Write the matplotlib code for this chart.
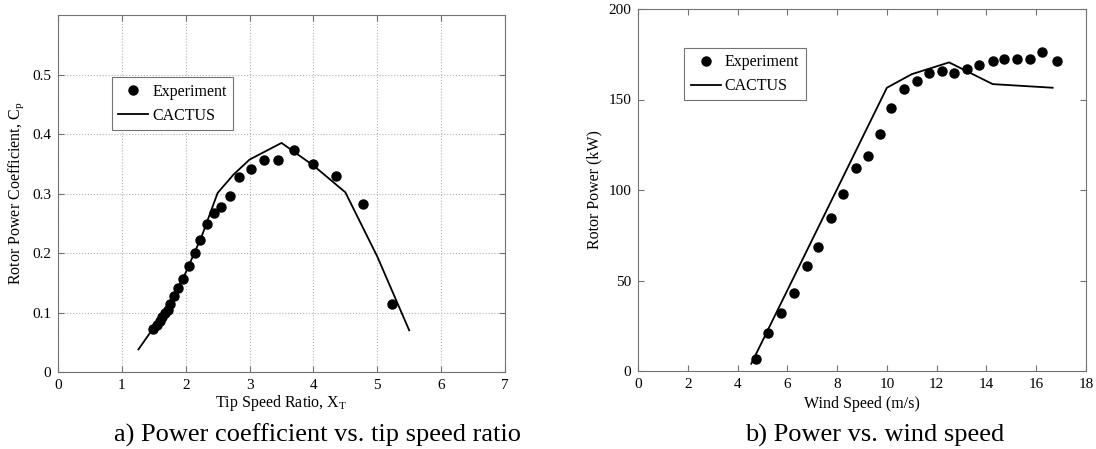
import matplotlib.pyplot as plt

plt.rcParams['font.family'] = ['Liberation Serif', 'DejaVu Serif']
plt.rcParams['mathtext.fontset'] = 'custom'
plt.rcParams['mathtext.rm'] = 'Liberation Serif'
plt.rcParams['mathtext.it'] = 'Liberation Serif'

# a) Cp vs tip speed ratio
tsr_exp = [1.49, 1.545, 1.59, 1.63, 1.68, 1.72, 1.75, 1.82, 1.88, 1.96, 2.05, 2.14,
           2.23, 2.33, 2.45, 2.55, 2.70, 2.84, 3.02, 3.22, 3.44, 3.69, 3.99, 4.35,
           4.78, 5.23]
cp_exp = [0.072, 0.079, 0.085, 0.092, 0.099, 0.105, 0.114, 0.128, 0.142, 0.157, 0.178, 0.200,
          0.222, 0.249, 0.267, 0.277, 0.296, 0.327, 0.341, 0.357, 0.356, 0.373, 0.349, 0.330,
          0.282, 0.114]
tsr_cac = [1.26, 1.5, 1.75, 2.0, 2.25, 2.5, 2.75, 3.0, 3.25, 3.5, 4.0, 4.5, 5.0, 5.5]
cp_cac = [0.038, 0.075, 0.116, 0.167, 0.228, 0.301, 0.332, 0.357, 0.371, 0.385, 0.347,
          0.302, 0.194, 0.070]

# b) power vs wind speed
ws_exp = [4.76, 5.24, 5.73, 6.27, 6.78, 7.25, 7.74, 8.23, 8.75, 9.23, 9.73, 10.18,
          10.70, 11.19, 11.69, 12.20, 12.70, 13.20, 13.72, 14.28, 14.70, 15.23, 15.74,
          16.22, 16.84]
p_exp = [6.7, 20.9, 31.8, 43.1, 58.2, 68.5, 84.7, 97.9, 112.0, 118.7, 131.1, 145.5,
         155.9, 160.3, 164.7, 165.8, 164.7, 166.8, 169.0, 171.4, 172.5, 172.5, 172.5,
         176.0, 171.4]
ws_cac = [4.55, 10.0, 11.0, 12.5, 14.25, 16.66]
p_cac = [4.0, 156.5, 164.0, 170.5, 158.5, 156.5]

fig = plt.figure(figsize=(10.96, 4.49), dpi=100)
W, H = 1096.0, 449.0

ax1 = fig.add_axes([58 / W, 1 - 372 / H, 447 / W, 357 / H])
ax2 = fig.add_axes([638 / W, 1 - 371 / H, 448 / W, 362 / H])

spine_col = '0.45'
for ax in (ax1, ax2):
    for s in ax.spines.values():
        s.set_color(spine_col)
        s.set_linewidth(0.8)
    ax.tick_params(direction='in', top=True, right=True, color=spine_col,
                   labelsize=11, labelcolor='black', length=4, pad=5)

ax1.plot(tsr_exp, cp_exp, 'o', color='black', markersize=6.5, label='Experiment')
ax1.plot(tsr_cac, cp_cac, '-', color='black', linewidth=1.3, label='CACTUS')
ax1.set_xlim(0, 7)
ax1.set_ylim(0, 0.6)
ax1.set_xticks(range(0, 8))
ax1.set_yticks([0, 0.1, 0.2, 0.3, 0.4, 0.5])
ax1.set_yticklabels(['0', '0.1', '0.2', '0.3', '0.4', '0.5'])
ax1.grid(True, linestyle=':', color='0.7', linewidth=0.8)
ax1.set_xlabel('Tip Speed Ratio, X$_\\mathrm{T}$', fontsize=11.5, labelpad=1)
ax1.set_ylabel('Rotor Power Coefficient, C$_\\mathrm{p}$', fontsize=11.5, labelpad=4)

ax2.plot(ws_exp, p_exp, 'o', color='black', markersize=6.5, label='Experiment')
ax2.plot(ws_cac, p_cac, '-', color='black', linewidth=1.3, label='CACTUS')
ax2.set_xlim(0, 18)
ax2.set_ylim(0, 200)
ax2.set_xticks(range(0, 19, 2))
ax2.set_yticks([0, 50, 100, 150, 200])
ax2.set_xlabel('Wind Speed (m/s)', fontsize=11.5, labelpad=4)
ax2.set_ylabel('Rotor Power (kW)', fontsize=11.5, labelpad=4)

for ax, anchor in ((ax1, (0.12, 0.825)), (ax2, (0.103, 0.893))):
    leg = ax.legend(loc='upper left', bbox_to_anchor=anchor, fontsize=11.5,
                    fancybox=False, framealpha=1, edgecolor='0.45', borderaxespad=0,
                    handlelength=1.9, handletextpad=0.25, borderpad=0.4, labelspacing=0.5)
    leg.get_frame().set_linewidth(0.8)

fig.text(317 / W, 1 - 442 / H, 'a) Power coefficient vs. tip speed ratio',
         ha='center', va='baseline', fontsize=19)
fig.text(875 / W, 1 - 442 / H, 'b) Power vs. wind speed',
         ha='center', va='baseline', fontsize=19)

fig.savefig('out.png', dpi=100)
